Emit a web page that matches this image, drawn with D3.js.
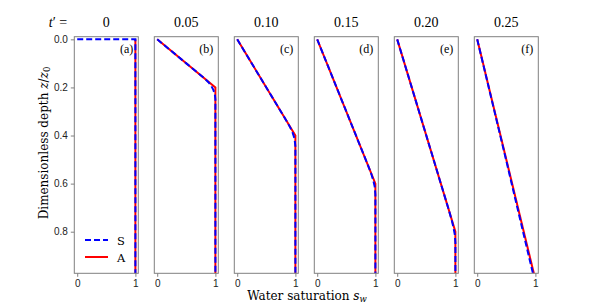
<!DOCTYPE html>
<html lang="en">
<head>
    <meta charset="UTF-8">
    <title>Water saturation profiles</title>
    <script src="https://d3js.org/d3.v7.min.js"></script>
    <style>
        body { margin: 0; background: #fff; }
        svg { font-family: "DejaVu Serif", serif; }
        .tick text { font-size: 10px; fill: #222; }
        .domain, .tick line { stroke: #808080; }
    </style>
</head>
<body>
<svg id="chart" width="598" height="308"></svg>
<script>
    // times shown above each panel and the panel letters
    const times = ["0", "0.05", "0.10", "0.15", "0.20", "0.25"];
    const letters = ["(a)", "(b)", "(c)", "(d)", "(e)", "(f)"];

    // analytic solution A: [s_w, z/z0] pairs per panel
    const analytic = [
        [[1, 0], [1, 0.975]],
        [[0, 0], [1, 0.2], [1, 0.975]],
        [[0, 0], [1, 0.4], [1, 0.975]],
        [[0, 0], [1, 0.6], [1, 0.975]],
        [[0, 0], [1, 0.8], [1, 0.975]],
        [[0, 0], [0.975, 0.975]]
    ];

    // simulation S: [s_w, z/z0] pairs per panel
    const simulated = [
        [[0, 0], [1, 0], [1, 0.975]],
        [[0, 0], [0.5, 0.1], [0.8, 0.16], [0.88, 0.178], [0.93, 0.194], [0.965, 0.21], [0.99, 0.228], [1, 0.25], [1, 0.975]],
        [[0, 0], [0.5, 0.2], [0.84, 0.336], [0.91, 0.366], [0.955, 0.39], [0.985, 0.412], [1, 0.445], [1, 0.975]],
        [[0, 0], [0.5, 0.3], [0.87, 0.522], [0.93, 0.56], [0.965, 0.588], [0.988, 0.612], [1, 0.645], [1, 0.975]],
        [[0, 0], [0.5, 0.4], [0.89, 0.712], [0.94, 0.755], [0.97, 0.786], [0.99, 0.812], [1, 0.845], [1, 0.975]],
        [[0, 0], [0.5, 0.505], [0.9, 0.915], [0.96, 0.975]]
    ];

    const yTicks = [0, 0.2, 0.4, 0.6, 0.8];
    const xTicks = [0, 1];

    const svg = d3.select("#chart");
    const panelW = 64, step = 80, left0 = 74.3;
    const plotTop = 36.7, plotBottom = 273.3;

    const y = d3.scaleLinear().domain([-0.011, 0.973]).range([plotTop, plotBottom]);

    svg.append("defs").append("clipPath").attr("id", "clip")
        .append("rect").attr("x", 0).attr("y", plotTop).attr("width", panelW).attr("height", plotBottom - plotTop);

    const line = (x) => d3.line().x(d => x(d[0])).y(d => y(d[1]));

    times.forEach((t, i) => {
        const left = left0 + i * step;
        const x = d3.scaleLinear().domain([-0.05, 1.05]).range([0, panelW]);
        const g = svg.append("g").attr("transform", `translate(${left},0)`);

        // curves: analytic underneath, simulation dashed on top
        const lines = g.append("g").attr("clip-path", "url(#clip)");
        lines.append("path")
            .attr("d", line(x)(analytic[i]))
            .attr("fill", "none").attr("stroke", "#ff0000").attr("stroke-width", 2);
        lines.append("path")
            .attr("d", line(x)(simulated[i]))
            .attr("fill", "none").attr("stroke", "#0000ff").attr("stroke-width", 2)
            .attr("stroke-dasharray", "6,3");

        // frame
        g.append("rect")
            .attr("x", 0).attr("y", plotTop).attr("width", panelW).attr("height", plotBottom - plotTop)
            .attr("fill", "none").attr("stroke", "#808080").attr("stroke-width", 1);

        g.append("g")
            .attr("transform", `translate(0,${plotBottom})`)
            .call(d3.axisBottom(x).tickValues(xTicks).tickFormat(d3.format("d")).tickSize(3.5).tickPadding(3))
            .call(a => a.select(".domain").remove());

        if (i === 0) {
            g.append("g")
                .call(d3.axisLeft(y).tickValues(yTicks).tickFormat(d3.format(".1f")).tickSize(3.5).tickPadding(3))
                .call(a => a.select(".domain").remove());
        }

        g.append("text")
            .attr("x", panelW / 2).attr("y", 27)
            .attr("text-anchor", "middle")
            .style("font-family", "'Liberation Serif', serif")
            .style("font-size", "14px")
            .text(t);

        g.append("text")
            .attr("x", panelW - 5).attr("y", 53)
            .attr("text-anchor", "end")
            .style("font-family", "'Liberation Serif', serif")
            .style("font-size", "12px")
            .text(letters[i]);
    });

    // t' = label
    svg.append("text")
        .attr("x", 58).attr("y", 27)
        .attr("text-anchor", "middle")
        .style("font-family", "'Liberation Serif', serif")
        .style("font-size", "14px")
        .html('<tspan font-style="italic">t</tspan>′ =');

    // axis labels
    svg.append("text")
        .attr("x", 307).attr("y", 300)
        .attr("text-anchor", "middle")
        .style("font-size", "12px")
        .html('Water saturation <tspan font-style="italic">s</tspan><tspan font-style="italic" font-size="8.5px" dy="2">w</tspan>');

    svg.append("text")
        .attr("transform", "translate(48,143) rotate(-90)")
        .attr("text-anchor", "middle")
        .style("font-size", "12px")
        .html('Dimensionless depth <tspan font-style="italic">z</tspan>/<tspan font-style="italic">z</tspan><tspan font-size="8.5px" dy="2">0</tspan>');

    // legend in first panel
    const legend = [
        { name: "S", color: "#0000ff", dash: "6,3", yPos: 240 },
        { name: "A", color: "#ff0000", dash: null, yPos: 257 }
    ];
    legend.forEach(l => {
        svg.append("line")
            .attr("x1", 85).attr("x2", 108).attr("y1", l.yPos).attr("y2", l.yPos)
            .attr("stroke", l.color).attr("stroke-width", 2)
            .attr("stroke-dasharray", l.dash);
        svg.append("text")
            .attr("x", 117).attr("y", l.yPos + 4.5)
            .style("font-size", "11.5px")
            .text(l.name);
    });
</script>
</body>
</html>
